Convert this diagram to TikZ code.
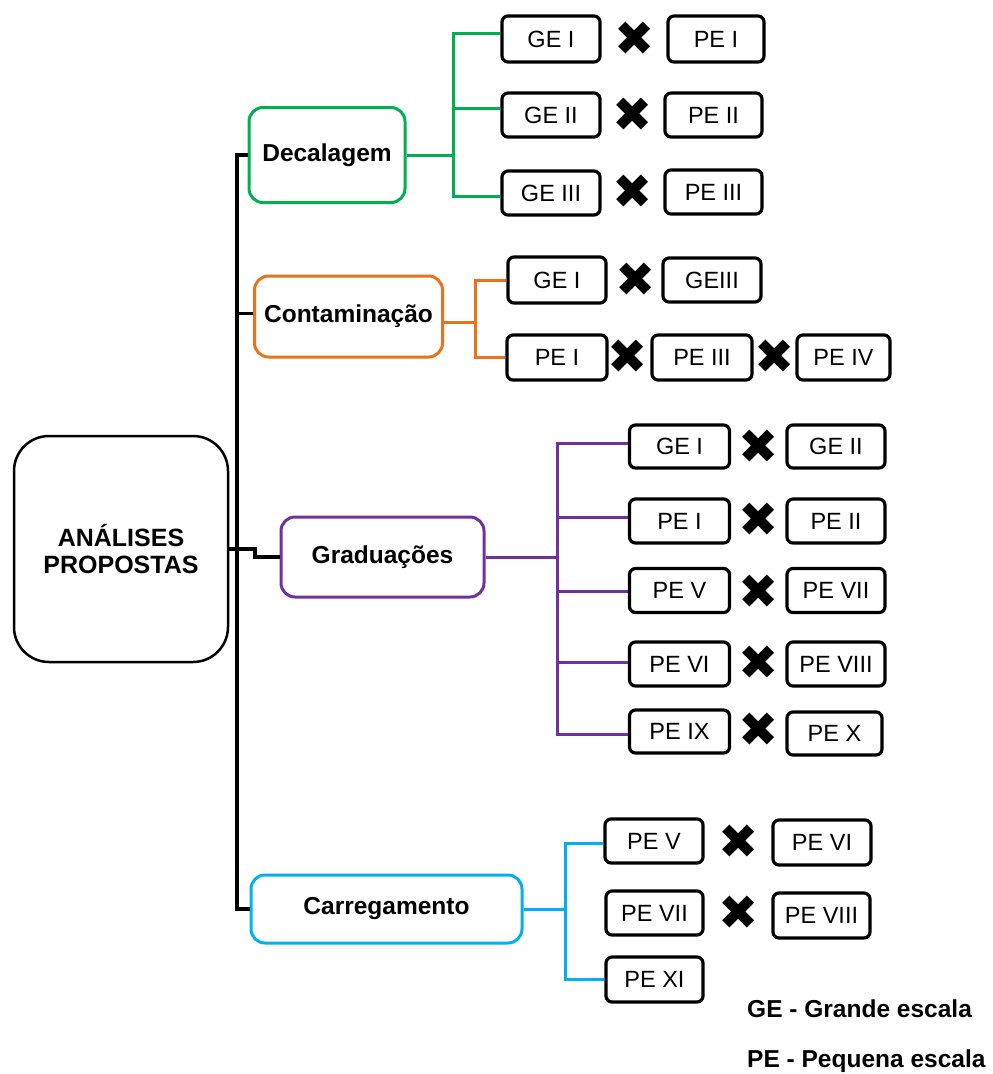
\documentclass[tikz,border=0pt]{standalone}
\usepackage{fontspec}
\setmainfont{Liberation Sans}
\newfontfamily\symfont{DejaVu Sans}
\definecolor{cgreen}{HTML}{00B050}
\definecolor{corange}{HTML}{E8731C}
\definecolor{cpurple}{HTML}{7030A0}
\definecolor{ccyan}{HTML}{00B0F0}
\begin{document}
\begin{tikzpicture}[x=1pt,y=-1pt,
 cbox/.style={draw=black, line width=3.2pt, rounded corners=6pt, inner sep=0pt, font=\fontsize{23.5}{27}\selectfont},
 pbox/.style={line width=3pt, rounded corners=14pt, inner sep=0pt, font=\bfseries\fontsize{24.5}{28}\selectfont},
 xmark/.style={inner sep=0pt, font=\symfont\fontsize{48}{48}\selectfont},
 link/.style={line width=3pt},
 trunk/.style={line width=3.6pt},
]
\useasboundingbox (0,0) rectangle (993,1074);

% root
\node[draw=black, line width=2.5pt, rounded corners=35pt, minimum width=214, minimum height=226, align=center, inner sep=0pt, font=\bfseries\fontsize{25}{27}\selectfont] (root) at (121,549) {ANÁLISES\\PROPOSTAS};

% parent nodes
\node[pbox, draw=cgreen, minimum width=156, minimum height=95] (dec) at (327,155) {Decalagem};
\node[pbox, draw=corange, minimum width=188, minimum height=81] (con) at (348.5,316.5) {Contaminação};
\node[pbox, draw=cpurple, minimum width=203, minimum height=80] (gra) at (382.5,557) {Graduações};
\node[pbox, draw=ccyan, minimum width=271, minimum height=68] (car) at (386.5,909) {Carregamento};

% trunk
\coordinate (tr) at (237,0);
\draw[trunk] (dec.west) -- (dec.west -| tr) -- (car.west -| tr) -- (car.west);
\draw[trunk] ([yshift=3pt]con.west) -- ([yshift=3pt]con.west -| tr);
\draw[trunk] (root.east) -- (255,549) -- (255,557) -- (gra.west);

% Decalagem children
\node[cbox, minimum width=98, minimum height=46] (d1a) at (551,39) {GE I};
\node[cbox, minimum width=96, minimum height=46] (d1b) at (716,39) {PE I};
\node[xmark] (dx1) at (635,39) {✖};
\node[cbox, minimum width=98, minimum height=44] (d2a) at (551,115) {GE II};
\node[cbox, minimum width=97, minimum height=44] (d2b) at (713.5,115) {PE II};
\node[xmark] (dx2) at (633,115) {✖};
\node[cbox, minimum width=98, minimum height=44] (d3a) at (551,193) {GE III};
\node[cbox, minimum width=97, minimum height=44] (d3b) at (713.5,192) {PE III};
\node[xmark] (dx3) at (633,192) {✖};
\coordinate (gj) at (453,0);
\draw[link, cgreen] (dec.east) -- (dec.east -| gj);
\draw[link, cgreen] ([yshift=6pt]d1a.west) -| ([yshift=-3pt]d3a.west -| gj) -- ([yshift=-3pt]d3a.west);
\draw[link, cgreen] ([yshift=7pt]d2a.west) -- ([yshift=7pt]d2a.west -| gj);

% Contaminação children
\node[cbox, minimum width=98, minimum height=46] (c1a) at (557,280) {GE I};
\node[cbox, minimum width=98, minimum height=44] (c1b) at (712,280) {GEIII};
\node[xmark] (cx1) at (636,280) {✖};
\node[cbox, minimum width=100, minimum height=45] (c2a) at (557,357.5) {PE I};
\node[cbox, minimum width=100, minimum height=45] (c2b) at (702,357.5) {PE III};
\node[cbox, minimum width=93, minimum height=45] (c2c) at (843.5,357.5) {PE IV};
\node[xmark] (cx2) at (628,357) {✖};
\node[xmark] (cx3) at (775,357) {✖};
\coordinate (oj) at (475,0);
\draw[link, corange] ([yshift=-6pt]con.east) -- ([yshift=-6pt]con.east -| oj);
\draw[link, corange] (c1a.west) -| (c2a.west -| oj) -- (c2a.west);

% Graduações children
\node[cbox, minimum width=100, minimum height=43] (g1a) at (679.5,446.5) {GE I};
\node[cbox, minimum width=98, minimum height=43] (g1b) at (836,446.5) {GE II};
\node[xmark] (gx1) at (759,447) {✖};
\node[cbox, minimum width=100, minimum height=44] (g2a) at (679.5,521) {PE I};
\node[cbox, minimum width=98, minimum height=44] (g2b) at (836,521) {PE II};
\node[xmark] (gx2) at (759,520) {✖};
\node[cbox, minimum width=100, minimum height=44] (g3a) at (679.5,590.5) {PE V};
\node[cbox, minimum width=98, minimum height=44] (g3b) at (836,590.5) {PE VII};
\node[xmark] (gx3) at (759,592) {✖};
\node[cbox, minimum width=100, minimum height=44] (g4a) at (679.5,664) {PE VI};
\node[cbox, minimum width=98, minimum height=44] (g4b) at (836,664) {PE VIII};
\node[xmark] (gx4) at (759,663) {✖};
\node[cbox, minimum width=100, minimum height=43] (g5a) at (679.5,731.5) {PE IX};
\node[cbox, minimum width=95, minimum height=43] (g5b) at (834.5,733.5) {PE X};
\node[xmark] (gx5) at (759,730) {✖};
\coordinate (pj) at (557,0);
\draw[link, cpurple] (gra.east) -- (gra.east -| pj);
\draw[link, cpurple] ([yshift=3pt]g1a.west) -| ([yshift=-3pt]g5a.west -| pj) -- ([yshift=-3pt]g5a.west);
\draw[link, cpurple] ([yshift=4pt]g2a.west) -- ([yshift=4pt]g2a.west -| pj);
\draw[link, cpurple] ([yshift=-1pt]g3a.west) -- ([yshift=-1pt]g3a.west -| pj);
\draw[link, cpurple] ([yshift=2pt]g4a.west) -- ([yshift=2pt]g4a.west -| pj);

% Carregamento children
\node[cbox, minimum width=98, minimum height=44] (r1a) at (654,841) {PE V};
\node[cbox, minimum width=98, minimum height=45] (r1b) at (822,842.5) {PE VI};
\node[xmark] (rx1) at (739,842) {✖};
\node[cbox, minimum width=97, minimum height=44] (r2a) at (654.5,913) {PE VII};
\node[cbox, minimum width=97, minimum height=45] (r2b) at (821.5,915.5) {PE VIII};
\node[xmark] (rx2) at (739,913) {✖};
\node[cbox, minimum width=97, minimum height=45] (r3a) at (654.5,979.5) {PE XI};
\coordinate (bj) at (565,0);
\draw[link, ccyan] (car.east) -- (car.east -| bj);
\draw[link, ccyan] ([yshift=-2pt]r1a.west) -| (r3a.west -| bj) -- (r3a.west);

% legend
\node[anchor=base west, inner sep=0pt, font=\bfseries\fontsize{24.5}{27}\selectfont] (lg1) at (747,1017) {GE - Grande escala};
\node[anchor=base west, inner sep=0pt, font=\bfseries\fontsize{24.5}{27}\selectfont] (lg2) at (747,1067) {PE - Pequena escala};
\end{tikzpicture}
\end{document}
